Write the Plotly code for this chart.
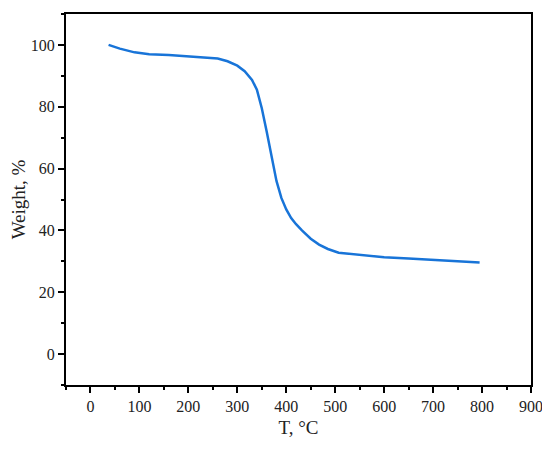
import plotly.graph_objects as go

# TGA curve
temp = [37, 60, 90, 120, 160, 200, 230, 260, 280, 300, 315, 330, 340, 350, 360, 370,
        380, 390, 400, 410, 420, 432, 450, 467, 485, 507, 550, 600, 650, 700, 750, 795]
weight = [100, 98.8, 97.6, 97, 96.7, 96.2, 96, 95.6, 94.7, 93.3, 91.5, 88.7, 85.5, 79.5, 72, 64,
          56, 50.5, 46.8, 44, 42, 40, 37.3, 35.4, 34, 32.8, 32, 31.3, 30.9, 30.4, 30, 29.6]

x_ticks = list(range(0, 901, 100))
y_ticks = list(range(0, 101, 20))

fig = go.Figure(go.Scatter(x=temp, y=weight, mode='lines',
                           line=dict(color='#1874D8', width=2.5)))

axis_common = dict(showline=True, linecolor='black', linewidth=2, mirror=True,
                   ticks='outside', ticklen=6, tickwidth=2, tickcolor='black',
                   showgrid=False, zeroline=False, automargin=False,
                   minor=dict(ticks='outside', ticklen=3, tickwidth=2, tickcolor='black'),
                   tickfont=dict(size=16, color='#222'))

fig.update_xaxes(range=[-50, 900], tickvals=x_ticks, minor_dtick=50,
                 title=dict(text='T, °C', font=dict(size=19, color='#222'), standoff=6),
                 **axis_common)
fig.update_yaxes(range=[-10, 110], tickvals=y_ticks, minor_dtick=10,
                 title=dict(text='Weight, %', font=dict(size=19, color='#222'), standoff=8),
                 **axis_common)

fig.update_layout(width=550, height=450, showlegend=False,
                  plot_bgcolor='white', paper_bgcolor='white',
                  font=dict(family='Liberation Serif'),
                  margin=dict(l=58, r=27, t=6, b=73))

fig.write_html("out.html")
